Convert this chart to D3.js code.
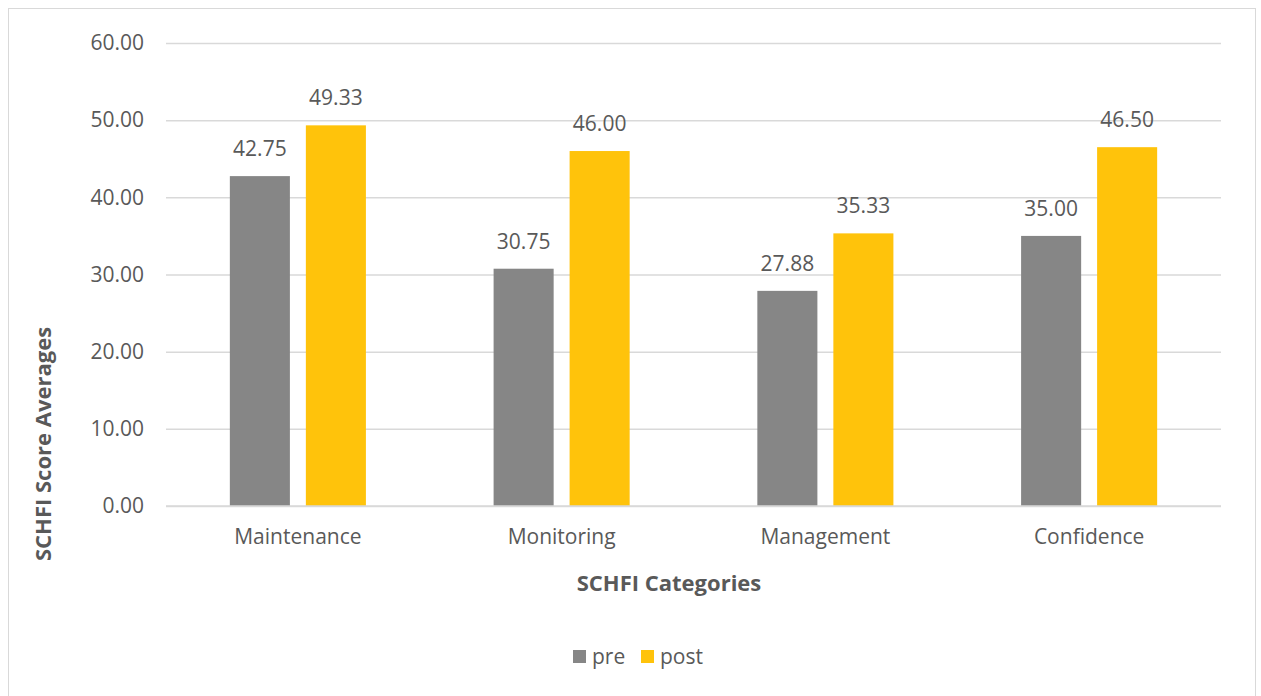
<!DOCTYPE html>
<html>
<head>
<meta charset="utf-8">
<script src="https://cdn.jsdelivr.net/npm/d3@7"></script>
<style>
  body { margin: 0; background: #fff; }
  text { font-family: "Open Sans", sans-serif; fill: #595959; }
</style>
</head>
<body>
<svg class="bar-chart"></svg>
<script>
const categories = ['Maintenance', 'Monitoring', 'Management', 'Confidence'];
const series = ['pre', 'post'];
const preValues = [42.75, 30.75, 27.88, 35.00];
const postValues = [49.33, 46.00, 35.33, 46.50];
const yTicks = [0, 10, 20, 30, 40, 50, 60];
const colors = { pre: '#868686', post: '#FFC30B' };

const width = 1261, height = 696;
const plot = { left: 166, right: 1221, top: 43, bottom: 506 };

const svg = d3.select('svg.bar-chart')
  .attr('width', width)
  .attr('height', height);

svg.append('rect')
  .attr('x', 8.5).attr('y', 8.5)
  .attr('width', 1247).attr('height', 700)
  .attr('fill', '#fff')
  .attr('stroke', '#d9d9d9');

const y = d3.scaleLinear().domain([0, 60]).range([plot.bottom, plot.top]);
const x = d3.scaleBand().domain(categories).range([plot.left, plot.right]).paddingInner(0).paddingOuter(0);
const xInner = d3.scaleBand().domain(series).range([0, x.bandwidth()]).paddingInner(0.21).paddingOuter(0.84);

const fmt = d3.format('.2f');

// gridlines + y labels
const yAxis = svg.append('g')
  .attr('transform', `translate(${plot.left},0)`)
  .call(d3.axisLeft(y).tickValues(yTicks).tickSize(-(plot.right - plot.left)).tickPadding(22).tickFormat(fmt));
yAxis.select('.domain').remove();
yAxis.selectAll('line').attr('stroke', '#d9d9d9').attr('stroke-width', 1.5);
yAxis.selectAll('text').style('font-size', '21px').attr('fill', '#595959');

const data = categories.map((c, i) => ({ cat: c, pre: preValues[i], post: postValues[i] }));

const groups = svg.selectAll('g.entry').data(data)
  .enter().append('g')
  .attr('class', 'entry')
  .attr('transform', d => `translate(${x(d.cat)},0)`);

groups.each(function (d) {
  const g = d3.select(this);
  series.forEach(s => {
    g.append('rect')
      .attr('x', xInner(s))
      .attr('y', y(d[s]))
      .attr('width', xInner.bandwidth())
      .attr('height', y(0) - y(d[s]))
      .attr('fill', colors[s]);
    g.append('text')
      .attr('x', xInner(s) + xInner.bandwidth() / 2)
      .attr('y', y(d[s]) - 20)
      .attr('text-anchor', 'middle')
      .style('font-size', '21px')
      .text(fmt(d[s]));
  });
});

// baseline
svg.append('line')
  .attr('x1', plot.left).attr('x2', plot.right)
  .attr('y1', y(0)).attr('y2', y(0))
  .attr('stroke', '#d9d9d9').attr('stroke-width', 1.5);

// category labels
const xAxis = svg.append('g')
  .attr('transform', `translate(0,${plot.bottom})`)
  .call(d3.axisBottom(x).tickSize(0).tickPadding(23));
xAxis.select('.domain').remove();
xAxis.selectAll('text').style('font-size', '21px').attr('fill', '#595959');

// axis titles
svg.append('text')
  .attr('x', 669)
  .attr('y', 591)
  .attr('text-anchor', 'middle')
  .style('font-size', '22px')
  .style('font-weight', 'bold')
  .text('SCHFI Categories');

svg.append('text')
  .attr('transform', `translate(51,444) rotate(-90)`)
  .attr('text-anchor', 'middle')
  .style('font-size', '22px')
  .style('font-weight', 'bold')
  .text('SCHFI Score Averages');

// legend
const legend = svg.append('g').attr('transform', 'translate(573,650)');
const legendX = { pre: 0, post: 68 };
series.forEach(s => {
  legend.append('rect')
    .attr('x', legendX[s]).attr('y', 0)
    .attr('width', 13).attr('height', 13)
    .attr('fill', colors[s]);
  legend.append('text')
    .attr('x', legendX[s] + 19).attr('y', 14)
    .style('font-size', '21px')
    .text(s);
});
</script>
</body>
</html>
